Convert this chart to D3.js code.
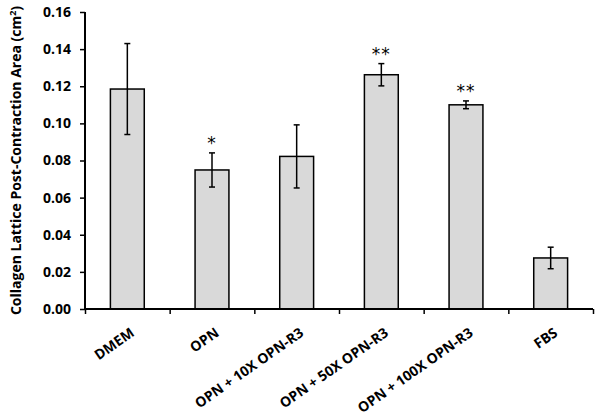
<!DOCTYPE html>
<html>
<head>
<meta charset="utf-8">
<script src="https://cdn.jsdelivr.net/npm/d3@7"></script>
<style>
  body { margin: 0; background: #fff; }
  text { font-family: "Open Sans", "DejaVu Sans", sans-serif; font-weight: bold; fill: #000; }
</style>
</head>
<body>
<svg id="chart" width="601" height="418"></svg>
<script>
// Chart values
var categories = ['DMEM', 'OPN', 'OPN + 10X OPN-R3', 'OPN + 50X OPN-R3', 'OPN + 100X OPN-R3', 'FBS'];
var means = [0.1185, 0.0749, 0.0822, 0.1262, 0.1100, 0.0275];
var errors = [0.0245, 0.0092, 0.0170, 0.0060, 0.0021, 0.0058];
var stars = ['', '*', '', '**', '**', ''];
var yTicks = [0, 0.02, 0.04, 0.06, 0.08, 0.10, 0.12, 0.14, 0.16];

var svg = d3.select('#chart');

// Plot area
var plotLeft = 85, plotRight = 593, plotTop = 12, plotBottom = 309;

var x = d3.scaleBand().domain(categories).range([plotLeft, plotRight])
    .paddingInner(0.6).paddingOuter(0.3);
var y = d3.scaleLinear().domain([0, 0.16]).range([plotBottom, plotTop]);

// Bars
svg.append('g').selectAll('rect')
    .data(means)
    .enter().append('rect')
    .attr('x', function(d, i){ return x(categories[i]); })
    .attr('y', function(d){ return y(d); })
    .attr('width', x.bandwidth())
    .attr('height', function(d){ return y(0) - y(d); })
    .attr('fill', '#d9d9d9')
    .attr('stroke', '#000')
    .attr('stroke-width', 1.5);

// Error bars
var eb = svg.append('g').attr('stroke', '#000').attr('stroke-width', 1.5);
means.forEach(function(m, i){
    var cx = x(categories[i]) + x.bandwidth() / 2;
    var hi = y(m + errors[i]), lo = y(m - errors[i]);
    eb.append('line').attr('x1', cx).attr('x2', cx).attr('y1', hi).attr('y2', lo);
    eb.append('line').attr('x1', cx - 3).attr('x2', cx + 3).attr('y1', hi).attr('y2', hi);
    eb.append('line').attr('x1', cx - 3).attr('x2', cx + 3).attr('y1', lo).attr('y2', lo);
});

// Significance stars
svg.append('g').selectAll('text')
    .data(stars)
    .enter().append('text')
    .attr('x', function(d, i){ return x(categories[i]) + x.bandwidth() / 2; })
    .attr('y', function(d, i){ return y(means[i] + errors[i]) - 4; })
    .attr('text-anchor', 'middle')
    .style('font-family', '"DejaVu Sans", sans-serif')
    .style('font-weight', 'normal')
    .style('font-size', '17px')
    .style('letter-spacing', '1px')
    .text(function(d){ return d; });

// Y axis
var yAxis = svg.append('g')
    .attr('transform', 'translate(' + plotLeft + ',0)')
    .call(d3.axisLeft(y).tickValues(yTicks).tickSize(5).tickPadding(9)
        .tickFormat(d3.format('.2f')));
yAxis.select('.domain').attr('stroke-width', 2).attr('d', 'M0,' + plotTop + 'V' + plotBottom);
yAxis.selectAll('.tick line').attr('stroke-width', 1.5);
yAxis.selectAll('text').style('font-size', '14px');

// X axis (ticks between categories)
var xIdx = d3.scaleLinear().domain([0, categories.length]).range([plotLeft, plotRight]);
var xAxis = svg.append('g')
    .attr('transform', 'translate(0,' + plotBottom + ')')
    .call(d3.axisBottom(xIdx).tickValues(d3.range(categories.length + 1)).tickSize(5).tickFormat(''));
xAxis.select('.domain').attr('stroke-width', 2).attr('d', 'M' + plotLeft + ',0H' + plotRight);
xAxis.selectAll('.tick line').attr('stroke-width', 1.5);

// Category labels, rotated
svg.append('g').selectAll('text')
    .data(categories)
    .enter().append('text')
    .attr('transform', function(d){
        return 'translate(' + (x(d) + x.bandwidth() / 2 + 8) + ',' + (plotBottom + 26) + ') rotate(-35)';
    })
    .attr('text-anchor', 'end')
    .style('font-size', '14px')
    .text(function(d){ return d; });

// Y axis title
var yTitle = svg.append('text')
    .attr('transform', 'translate(21,' + ((plotTop + plotBottom) / 2) + ') rotate(-90)')
    .attr('text-anchor', 'middle')
    .style('font-size', '14px');
yTitle.append('tspan').text('Collagen Lattice Post-Contraction Area (cm');
yTitle.append('tspan').attr('dy', -5).style('font-size', '9px').text('2');
yTitle.append('tspan').attr('dy', 5).text(')');
</script>
</body>
</html>
